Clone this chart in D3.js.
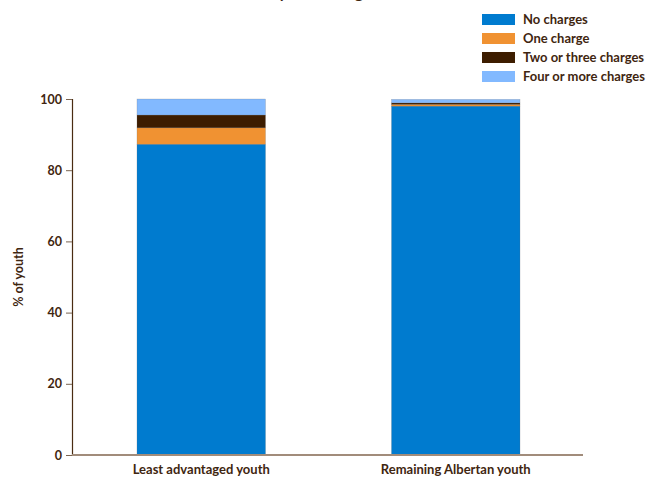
<!DOCTYPE html>
<html>
<head>
<meta charset="utf-8">
<script src="https://cdn.jsdelivr.net/npm/d3@7"></script>
<style>
  html, body { margin: 0; padding: 0; background: #fff; }
  svg { display: block; font-family: Lato, "Open Sans", sans-serif; font-weight: bold; }
</style>
</head>
<body>
<svg id="chart" width="659" height="477"></svg>
<script>
// Share of youth by number of charges, per group (percent)
const groups = ["Least advantaged youth", "Remaining Albertan youth"];
const seriesNames = ["No charges", "One charge", "Two or three charges", "Four or more charges"];
const noCharges = [87.3, 98.0];
const oneCharge = [4.6, 0.5];
const twoOrThree = [3.6, 0.4];
const fourOrMore = [4.5, 1.0];
const yTicks = [0, 20, 40, 60, 80, 100];
const colors = ["#007BCF", "#F09232", "#3D1D00", "#82B9FF"];

const textColor = "#3f2610";
const svg = d3.select("#chart");

const W = 659, H = 477;
const axisX = 72, bottomY = 455, topY = 99;

const x = d3.scaleBand()
  .domain(groups)
  .range([74, 583])
  .paddingInner(0.495)
  .paddingOuter(0.2475);

const y = d3.scaleLinear()
  .domain([0, 100])
  .range([bottomY, topY]);

const rows = groups.map((g, i) => ({
  group: g,
  "No charges": noCharges[i],
  "One charge": oneCharge[i],
  "Two or three charges": twoOrThree[i],
  "Four or more charges": fourOrMore[i]
}));
const stacked = d3.stack().keys(seriesNames)(rows);

// Title (sits above the top edge of the canvas)
svg.append("text")
  .attr("x", 289).attr("y", -2)
  .attr("text-anchor", "middle")
  .attr("font-size", 16)
  .attr("fill", textColor)
  .text("Number of youth charges");

// Stacked bars
svg.append("g").selectAll("g")
  .data(stacked)
  .join("g")
  .attr("fill", (d, i) => colors[i])
  .selectAll("rect")
  .data(d => d)
  .join("rect")
  .attr("x", d => x(d.data.group))
  .attr("width", x.bandwidth())
  .attr("y", d => y(d[1]))
  .attr("height", d => y(d[0]) - y(d[1]))
  .attr("stroke", "#6b6b6b")
  .attr("stroke-width", 0.4)
  .attr("stroke-opacity", 0.5);

// Y axis
const yAxis = svg.append("g")
  .attr("transform", `translate(${axisX},0)`)
  .call(d3.axisLeft(y).tickValues(yTicks).tickSize(6).tickPadding(4).tickFormat(d3.format("d")));
yAxis.select(".domain").attr("stroke", "#4a2c12").attr("stroke-width", 1.2);
yAxis.selectAll(".tick line").attr("stroke", "#7a6450");
yAxis.selectAll(".tick text")
  .attr("fill", textColor)
  .attr("font-size", 12.5)
  .attr("font-family", "Lato, sans-serif")
  .attr("font-weight", "bold");

// X axis
const xAxis = svg.append("g")
  .attr("transform", `translate(0,${y(0)})`)
  .call(d3.axisBottom(x).tickSize(0).tickPadding(10));
xAxis.select(".domain").attr("stroke", "#a18c7b").attr("stroke-width", 2)
  .attr("d", `M${axisX},0H583`);
xAxis.selectAll(".tick text")
  .attr("fill", textColor)
  .attr("font-size", 13)
  .attr("font-family", "Lato, sans-serif")
  .attr("font-weight", "bold");

// Y axis title
svg.append("text")
  .attr("transform", `translate(23,${(y(0) + y(100)) / 2}) rotate(-90)`)
  .attr("text-anchor", "middle")
  .attr("font-size", 12.5)
  .attr("fill", textColor)
  .text("% of youth");

// Legend
const legend = svg.append("g").attr("transform", "translate(482,14)");
const item = legend.selectAll("g")
  .data(seriesNames)
  .join("g")
  .attr("transform", (d, i) => `translate(0,${i * 19})`);
item.append("rect")
  .attr("width", 33).attr("height", 11)
  .attr("fill", (d, i) => colors[i]);
item.append("text")
  .attr("x", 41).attr("y", 10)
  .attr("font-size", 13)
  .attr("fill", textColor)
  .text(d => d);
</script>
</body>
</html>
